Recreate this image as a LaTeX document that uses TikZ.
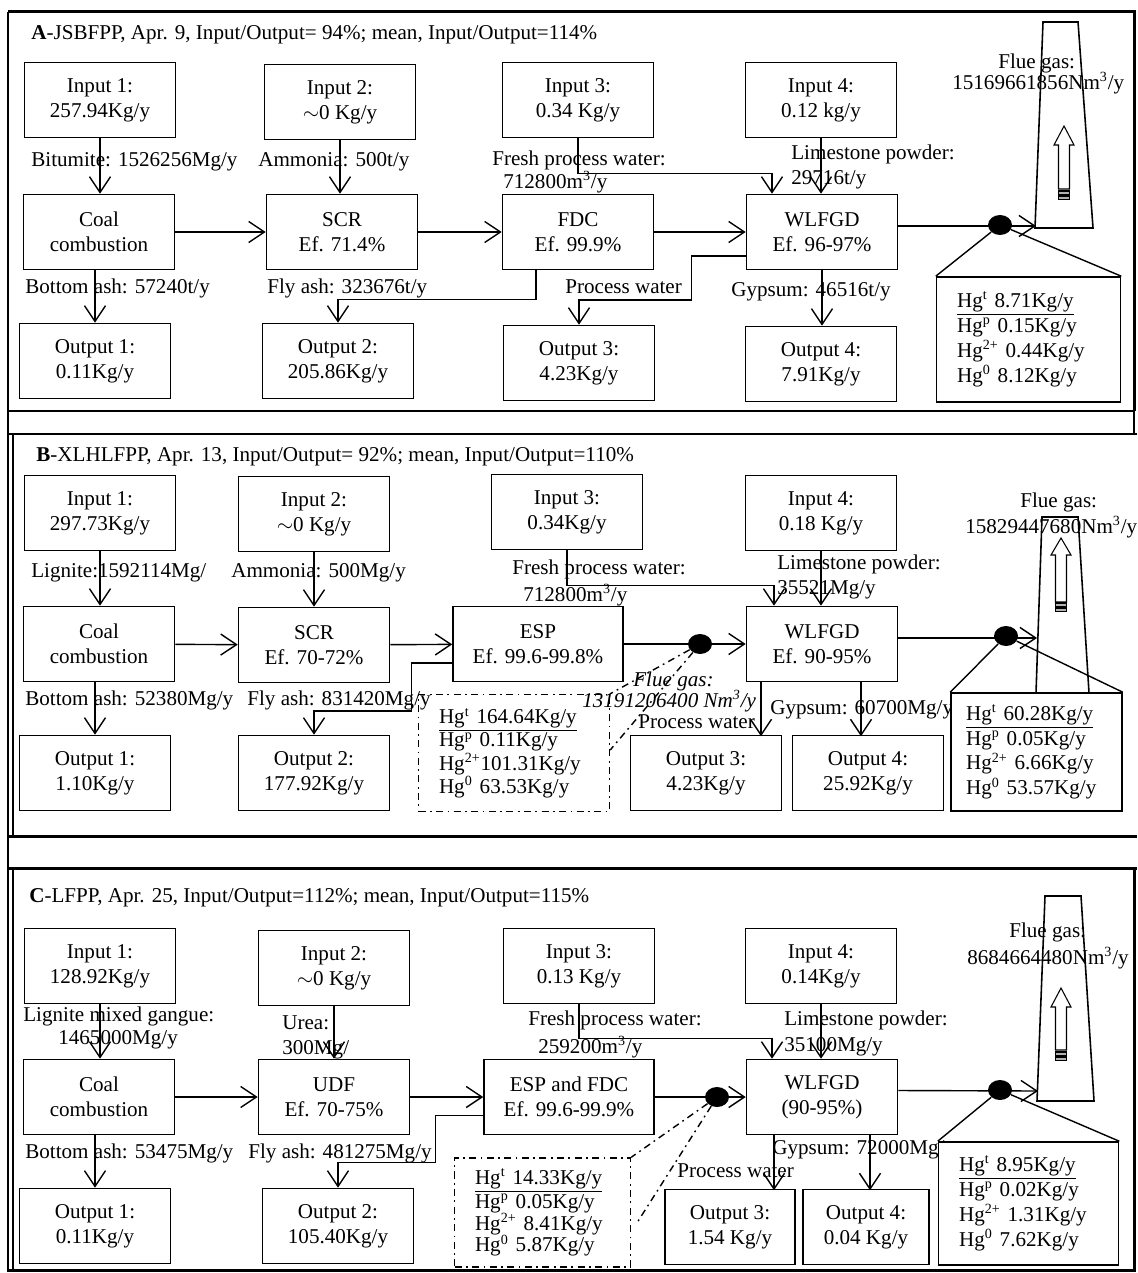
\documentclass[tikz,border=0pt]{standalone}
\usepackage{fontspec}
\setmainfont{Liberation Serif}
\usetikzlibrary{arrows.meta,calc,shapes.geometric}

\begin{document}
\begin{tikzpicture}[x=0.02cm,y=-0.02cm,
    font=\fontsize{12}{14.2}\selectfont,
    >={Straight Barb[length=9pt,width=12pt]},
    box/.style={draw,line width=0.9pt,minimum width=3.02cm,minimum height=1.5cm,align=center,inner sep=1pt},
    lbl/.style={anchor=west,inner sep=0pt},
    hg/.style={draw,line width=0.9pt,fill=white,align=left,inner xsep=0.41cm,inner ysep=0pt},
    hgdash/.style={line width=0.8pt,dash pattern=on 4pt off 2.5pt on 1pt off 2.5pt},
    hgdot/.style={shape=ellipse,fill=black,minimum width=0.48cm,minimum height=0.4cm,inner sep=0pt},
    pframe/.style={line width=1.7pt},
    conn/.style={line width=0.8pt}]
    \useasboundingbox (0,0) rectangle (1137,1273);
    \draw[pframe] (8,12) -- (1134,12) -- (1134,411) (1137,434) -- (8,434) (8,12) -- (8,1270) -- (1134,1270) -- (1134,868) -- (1137,868) (8,411) -- (1134,411) (8,836) -- (1137,836) (8,868) -- (1134,868);
    \draw[line width=0.6pt] (13,434) -- (13,836) (13,868) -- (13,1270) (1134,411) -- (1134,434);

    % A
    \node[lbl] (ta) at (31,35) {\textbf{A}-JSBFPP, Apr. 9, Input/Output= 94\%; mean, Input/Output=114\%};
    \node[box] (a1) at (100,100) {Input 1:\\257.94Kg/y};
    \node[box] (a2) at (340,102) {Input 2:\\$\sim$0 Kg/y};
    \node[box] (a3) at (578,100) {Input 3:\\0.34 Kg/y};
    \node[box] (a4) at (821,100) {Input 4:\\0.12 kg/y};
    \node[box] (a5) at (99,232) {Coal\\combustion};
    \node[box] (a6) at (342,232) {SCR\\Ef. 71.4\%};
    \node[box] (a7) at (578,232) {FDC\\Ef. 99.9\%};
    \node[box] (a8) at (822,232) {WLFGD\\Ef. 96-97\%};
    \node[box] (a9) at (95,361) {Output 1:\\0.11Kg/y};
    \node[box] (a10) at (338,361) {Output 2:\\205.86Kg/y};
    \node[box] (a11) at (579,363) {Output 3:\\4.23Kg/y};
    \node[box] (a12) at (821,364) {Output 4:\\7.91Kg/y};
    \node[lbl] (la1) at (31,162) {Bitumite: 1526256Mg/y};
    \node[lbl] (la2) at (258,162) {Ammonia: 500t/y};
    \node[lbl] (la3) at (492,160) {Fresh process water:};
    \node[lbl] (la4) at (503,182) {712800m\textsuperscript{3}/y};
    \node[lbl] (la5) at (791,154) {Limestone powder:};
    \node[lbl] (la6) at (791,180) {29716t/y};
    \node[lbl] (la7) at (25,288) {Bottom ash: 57240t/y};
    \node[lbl] (la8) at (267,288) {Fly ash: 323676t/y};
    \node[lbl] (la9) at (565,287) {Process water};
    \node[lbl] (la10) at (731,292) {Gypsum: 46516t/y};
    \node[lbl] (la11) at (998,63) {Flue gas:};
    \node[lbl] (la12) at (952,83) {15169661856Nm\textsuperscript{3}/y};
    \draw[line width=0.9pt] (1043,22) -- (1078,22) -- (1093,228) -- (1035,228) -- cycle;
    \draw[line width=0.6pt] (1064,126) -- ++(10,19) -- ++(-4.5,0) -- ++(0,44) -- ++(-11,0) -- ++(0,-44) -- ++(-4.5,0) -- cycle;
    \draw[line width=0.6pt,fill=gray!60] (1058.5,191) rectangle ++(11,3.5) (1058.5,196) rectangle ++(11,3.5);
    \node[hg,text width=2.86cm,minimum height=2.5cm] (a13) at (1028.5,339.5) {\underline{Hg\textsuperscript{t} 8.71Kg/y}\\Hg\textsuperscript{p} 0.15Kg/y\\Hg\textsuperscript{2+} 0.44Kg/y\\Hg\textsuperscript{0} 8.12Kg/y};
    \node[hgdot] (da) at (1000,225) {};
    \coordinate (ca) at (1036,226);
    \draw[conn,->] (a1.south) -- (a1.south |- a5.north);
    \draw[conn,->] (a2.south) -- (a2.south |- a6.north);
    \draw[conn,->] (a5) -- (a6);
    \draw[conn,->] (a6) -- (a7);
    \draw[conn,->] (a7) -- (a8);
    \draw[conn,->] (a3.south) -- ++(0,35) -| ($(a8.north)+(-50,0)$);
    \draw[conn,->] (a4.south) -- (a4.south |- a8.north);
    \draw[conn,->] (a9.north |- a5.south) -- (a9.north);
    \draw[conn,->] ($(a7.south)+(-42,0)$) -- ++(0,29) -| (a10.north);
    \draw[conn,->] ($(a8.west)+(0,24)$) -| ++(-54,44) -| (a11.north);
    \draw[conn,->] (a8.south) -- (a8.south |- a12.north);
    \draw[conn,->] ($(a8.east)+(0,-6)$) -- (ca);
    \draw[conn] (da) -- (a13.north west) (da) -- (a13.north east);

    % B
    \node[lbl] (tb) at (36,457) {\textbf{B}-XLHLFPP, Apr. 13, Input/Output= 92\%; mean, Input/Output=110\%};
    \node[box] (b1) at (100,513) {Input 1:\\297.73Kg/y};
    \node[box] (b2) at (314,514) {Input 2:\\$\sim$0 Kg/y};
    \node[box] (b3) at (567,512) {Input 3:\\0.34Kg/y};
    \node[box] (b4) at (821,513) {Input 4:\\0.18 Kg/y};
    \node[box] (b5) at (99,644) {Coal\\combustion};
    \node[box] (b6) at (314,645) {SCR\\Ef. 70-72\%};
    \node[box,minimum width=3.4cm] (b7) at (538,644) {ESP\\Ef. 99.6-99.8\%};
    \node[box] (b8) at (822,644) {WLFGD\\Ef. 90-95\%};
    \node[box] (b9) at (95,773) {Output 1:\\1.10Kg/y};
    \node[box] (b10) at (314,773) {Output 2:\\177.92Kg/y};
    \node[box] (b11) at (706,773) {Output 3:\\4.23Kg/y};
    \node[box] (b12) at (868,773) {Output 4:\\25.92Kg/y};
    \node[lbl] (lb1) at (31,573) {Lignite:1592114Mg/};
    \node[lbl] (lb2) at (231,573) {Ammonia: 500Mg/y};
    \node[lbl] (lb3) at (512,569) {Fresh process water:};
    \node[lbl] (lb4) at (523,595) {712800m\textsuperscript{3}/y};
    \node[lbl] (lb5) at (777,564) {Limestone powder:};
    \node[lbl] (lb6) at (777,590) {35521Mg/y};
    \node[lbl] (lb7) at (25,700) {Bottom ash: 52380Mg/y};
    \node[lbl] (lb8) at (247,700) {Fly ash: 831420Mg/y};
    \node[lbl] (lb9) at (633,681) {\textit{Flue gas:}};
    \node[lbl] (lb10) at (582,701) {\textit{13191206400 Nm\textsuperscript{3}/y}};
    \node[lbl] (lb11) at (638,722) {Process water};
    \node[lbl] (lb12) at (770,710) {Gypsum: 60700Mg/y};
    \node[lbl] (lb13) at (1020,502) {Flue gas:};
    \node[lbl] (lb14) at (965,527) {15829447680Nm\textsuperscript{3}/y};
    \draw[line width=0.9pt] (1036,693) -- (1042,517) -- (1078,517) -- (1089,693);
    \draw[line width=0.6pt] (1061,538) -- ++(10,17) -- ++(-4.5,0) -- ++(0,47) -- ++(-11,0) -- ++(0,-47) -- ++(-4.5,0) -- cycle;
    \draw[line width=0.6pt,fill=gray!60] (1055.5,603) rectangle ++(11,3.5) (1055.5,608) rectangle ++(11,3.5);
    \node[hg,inner xsep=0.3cm,text width=2.82cm,minimum height=2.36cm] (b13) at (1036.5,752) {\underline{Hg\textsuperscript{t} 60.28Kg/y}\\Hg\textsuperscript{p} 0.05Kg/y\\Hg\textsuperscript{2+} 6.66Kg/y\\Hg\textsuperscript{0} 53.57Kg/y};
    \node[hg,hgdash,draw,fill=none,text width=3.0cm,minimum height=2.34cm,font=\fontsize{12}{13.2}\selectfont] (b14) at (514,753) {\underline{Hg\textsuperscript{t} 164.64Kg/y}\\Hg\textsuperscript{p} 0.11Kg/y\\Hg\textsuperscript{2+}101.31Kg/y\\Hg\textsuperscript{0} 63.53Kg/y};
    \node[hgdot] (db1) at (700,644) {};
    \node[hgdot] (db2) at (1006,636) {};
    \coordinate (cb) at (1037,638);
    \draw[conn,->] (b1.south) -- (b1.south |- b5.north);
    \draw[conn,->] (b2.south) -- (b2.south |- b6.north);
    \draw[conn,->] (b5) -- (b6);
    \draw[conn,->] (b6) -- (b7);
    \draw[conn,->] (b7) -- (b8);
    \draw[conn,->] (b3.south) -- ++(0,35) -| ($(b8.north)+(-48,0)$);
    \draw[conn,->] (b4.south) -- (b4.south |- b8.north);
    \draw[conn,->] (b9.north |- b5.south) -- (b9.north);
    \draw[conn,->] ($(b7.west)+(0,19)$) -| ++(-41,48) -| (b10.north);
    \draw[conn,->] ($(b8.south)+(-61,0)$) -- ++(0,54);
    \draw[conn,->] ($(b8.south)+(39,0)$) -- ++(0,54);
    \draw[conn,->] ($(b8.east)+(0,-6)$) -- (cb);
    \draw[conn] (db2) -- (b13.north west) (db2) -- (b13.north east);
    \draw[hgdash] (db1) -- (b14.north east) (db1) -- ($(b14.east)+(0,-3)$);

    % C
    \node[lbl] (tc) at (29,898) {\textbf{C}-LFPP, Apr. 25, Input/Output=112\%; mean, Input/Output=115\%};
    \node[box] (c1) at (100,966) {Input 1:\\128.92Kg/y};
    \node[box] (c2) at (334,968) {Input 2:\\$\sim$0 Kg/y};
    \node[box] (c3) at (579,966) {Input 3:\\0.13 Kg/y};
    \node[box] (c4) at (821,966) {Input 4:\\0.14Kg/y};
    \node[box] (c5) at (99,1097) {Coal\\combustion};
    \node[box] (c6) at (334,1097) {UDF\\Ef. 70-75\%};
    \node[box,minimum width=3.4cm] (c7) at (569,1097) {ESP and FDC\\Ef. 99.6-99.9\%};
    \node[box] (c8) at (822,1097) {WLFGD\\(90-95\%)};
    \node[box] (c9) at (95,1226) {Output 1:\\0.11Kg/y};
    \node[box] (c10) at (338,1226) {Output 2:\\105.40Kg/y};
    \node[box,minimum width=2.6cm] (c11) at (730,1227) {Output 3:\\1.54 Kg/y};
    \node[box,minimum width=2.52cm] (c12) at (866,1227) {Output 4:\\0.04 Kg/y};
    \node[lbl] (lc1) at (23,1016) {Lignite mixed gangue:};
    \node[lbl] (lc2) at (58,1040) {1465000Mg/y};
    \node[lbl] (lc3) at (282,1023) {Urea:};
    \node[lbl] (lc4) at (282,1050) {300Mg/};
    \node[lbl] (lc5) at (528,1020) {Fresh process water:};
    \node[lbl] (lc6) at (538,1047) {259200m\textsuperscript{3}/y};
    \node[lbl] (lc7) at (784,1020) {Limestone powder:};
    \node[lbl] (lc8) at (784,1047) {35100Mg/y};
    \node[lbl] (lc9) at (25,1153) {Bottom ash: 53475Mg/y};
    \node[lbl] (lc10) at (248,1153) {Fly ash: 481275Mg/y};
    \node[lbl] (lc11) at (677,1171) {Process water};
    \node[lbl] (lc12) at (772,1150) {Gypsum: 72000Mg/y};
    \node[lbl] (lc13) at (1009,932) {Flue gas:};
    \node[lbl] (lc14) at (967,958) {8684664480Nm\textsuperscript{3}/y};
    \draw[line width=0.9pt] (1045,896) -- (1081,896) -- (1094,1101) -- (1037,1101) -- cycle;
    \draw[line width=0.6pt] (1061,988) -- ++(10,19) -- ++(-4.5,0) -- ++(0,43) -- ++(-11,0) -- ++(0,-43) -- ++(-4.5,0) -- cycle;
    \draw[line width=0.6pt,fill=gray!60] (1055.5,1052) rectangle ++(11,3.5) (1055.5,1057) rectangle ++(11,3.5);
    \node[hg,text width=2.78cm,minimum height=2.46cm] (c13) at (1028.5,1203.5) {\underline{Hg\textsuperscript{t} 8.95Kg/y}\\Hg\textsuperscript{p} 0.02Kg/y\\Hg\textsuperscript{2+} 1.31Kg/y\\Hg\textsuperscript{0} 7.62Kg/y};
    \node[hg,hgdash,draw,fill=none,text width=2.7cm,minimum height=2.18cm,font=\fontsize{12}{12.4}\selectfont] (c14) at (542.5,1212.5) {\underline{Hg\textsuperscript{t} 14.33Kg/y}\\Hg\textsuperscript{p} 0.05Kg/y\\Hg\textsuperscript{2+} 8.41Kg/y\\Hg\textsuperscript{0} 5.87Kg/y};
    \node[hgdot] (dc1) at (717,1097) {};
    \node[hgdot] (dc2) at (1000,1090) {};
    \coordinate (cc) at (1038,1091);
    \draw[conn,->] (c1.south) -- (c1.south |- c5.north);
    \draw[conn,->] (c2.south) -- (c2.south |- c6.north);
    \draw[conn,->] (c5) -- (c6);
    \draw[conn,->] (c6) -- (c7);
    \draw[conn,->] (c7) -- (c8);
    \draw[conn,->] (c3.south) -- ++(0,34) -| ($(c8.north)+(-50,0)$);
    \draw[conn,->] (c4.south) -- (c4.south |- c8.north);
    \draw[conn,->] (c9.north |- c5.south) -- (c9.north);
    \draw[conn,->] ($(c7.west)+(0,18.5)$) -| ++(-48,47) -| (c10.north);
    \draw[conn,->] ($(c8.south)+(-48,0)$) -- ++(0,55);
    \draw[conn,->] ($(c8.south)+(48,0)$) -- ++(0,55);
    \draw[conn,->] ($(c8.east)+(0,-6.5)$) -- (cc);
    \draw[conn] (dc2) -- (c13.north west) (dc2) -- (c13.north east);
    \draw[hgdash] (dc1) -- (c14.north east) (dc1) -- ($(c14.east)+(6,10)$);
\end{tikzpicture}
\end{document}
